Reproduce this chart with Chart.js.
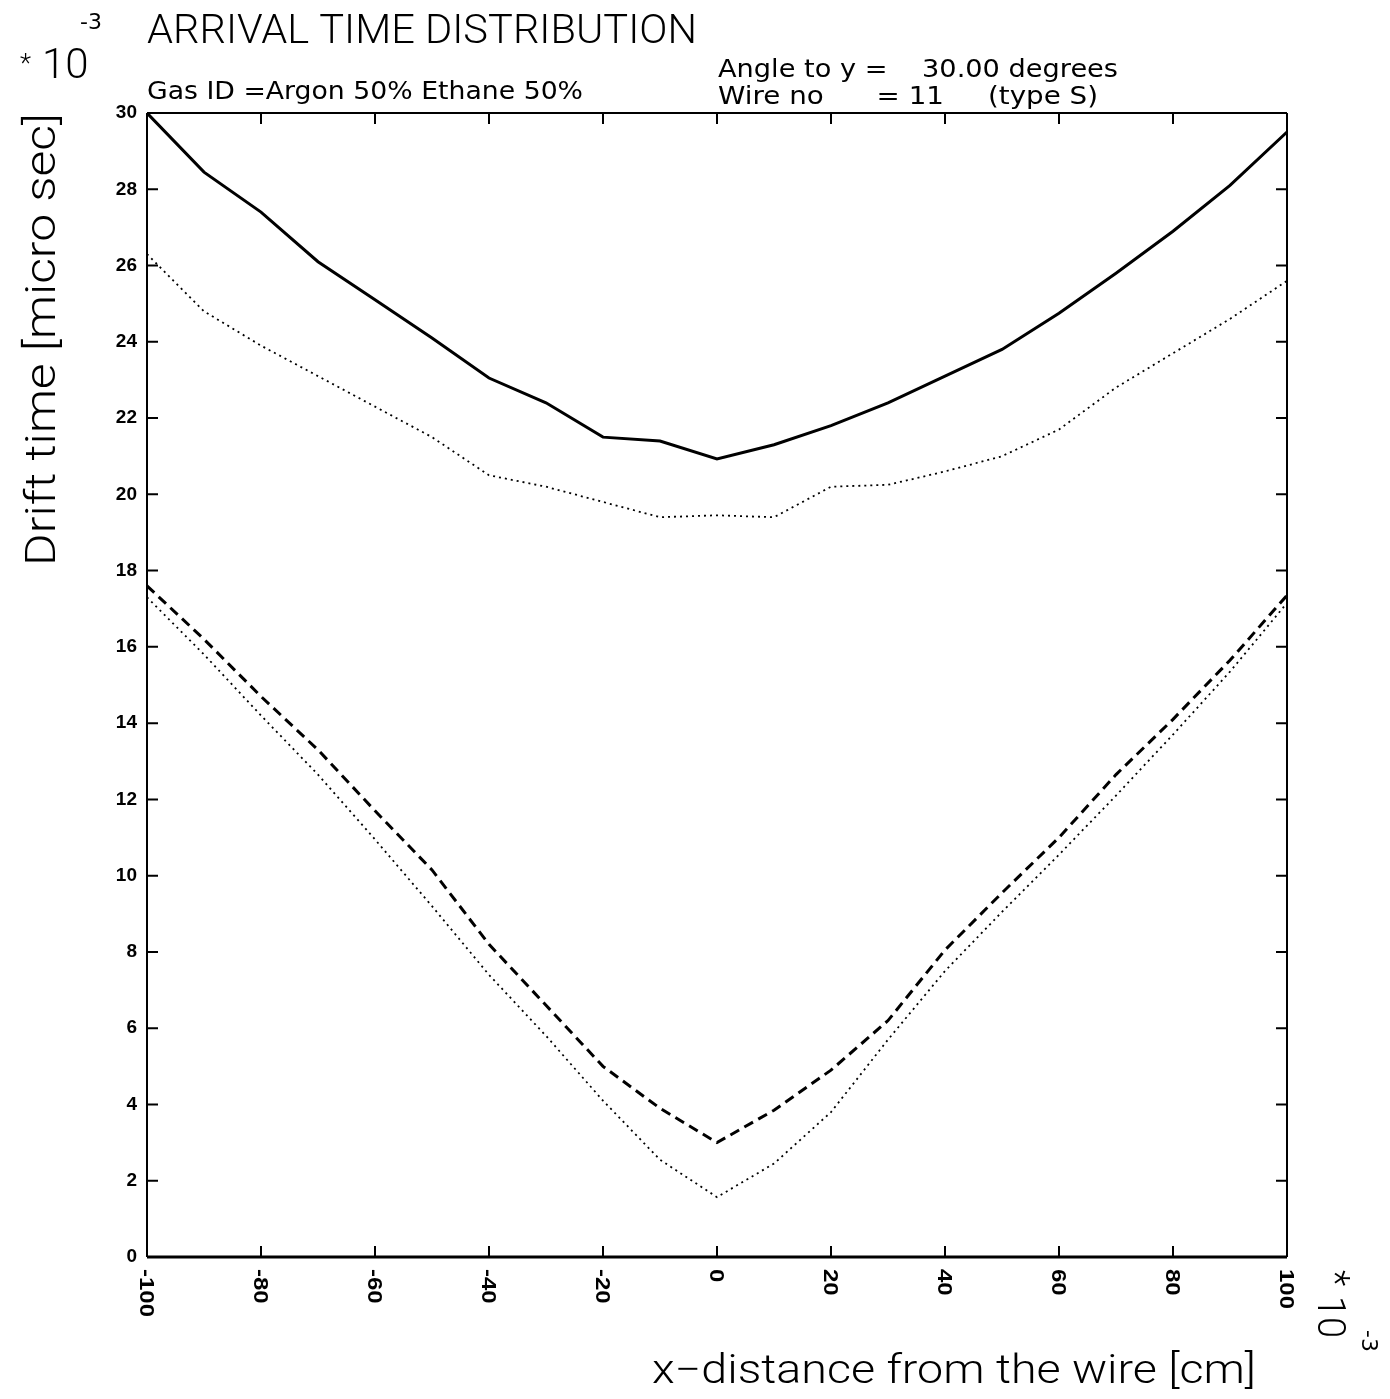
<!DOCTYPE html>
<html>
<head>
<meta charset="utf-8">
<script src="https://cdn.jsdelivr.net/npm/chart.js@4.4.1/dist/chart.umd.min.js"></script>
<style>
  html, body { margin: 0; padding: 0; background: #fff; }
  #wrap { width: 1390px; height: 1399px; position: relative; }
</style>
</head>
<body>
<div id="wrap"><canvas id="arrival"></canvas></div>
<script>
// x positions (units of 1e-3 cm)
const xs = [-100, -90, -80, -70, -60, -50, -40, -30, -20, -10, 0, 10, 20, 30, 40, 50, 60, 70, 80, 90, 100];
// drift times (units of 1e-3 micro sec)
const solidTop = [30.0, 28.45, 27.4, 26.1, 25.1, 24.1, 23.05, 22.4, 21.5, 21.4, 20.93, 21.3, 21.8, 22.4, 23.1, 23.8, 24.75, 25.8, 26.9, 28.1, 29.5];
const dotTop = [26.3, 24.8, 23.9, 23.1, 22.3, 21.5, 20.5, 20.2, 19.8, 19.4, 19.45, 19.4, 20.2, 20.25, 20.6, 21.0, 21.7, 22.8, 23.7, 24.6, 25.6];
const dashLow = [17.6, 16.2, 14.7, 13.3, 11.7, 10.15, 8.2, 6.6, 5.0, 3.9, 3.0, 3.85, 4.9, 6.2, 8.05, 9.55, 11.0, 12.65, 14.1, 15.65, 17.35];
const dotLow = [17.3, 15.8, 14.2, 12.65, 10.95, 9.2, 7.4, 5.8, 4.1, 2.55, 1.57, 2.45, 3.8, 5.7, 7.5, 9.05, 10.55, 12.1, 13.7, 15.35, 17.15];
const xTicks = [-100, -80, -60, -40, -20, 0, 20, 40, 60, 80, 100];

function pts(ys) {
    return xs.map((x, i) => ({ x: x, y: ys[i] }));
}

// draw text squeezed/stretched to a given width
function fitText(ctx, text, x, y, width, font) {
    ctx.save();
    ctx.font = font;
    const w = ctx.measureText(text).width;
    ctx.translate(x, y);
    ctx.scale(width / w, 1);
    ctx.textAlign = 'left';
    ctx.fillText(text, 0, 0);
    ctx.restore();
}

const decor = {
    id: 'decor',
    afterDraw(chart) {
        const ctx = chart.ctx;
        const a = chart.chartArea;
        const xs_ = chart.scales.x;
        const ys_ = chart.scales.y;
        ctx.save();
        ctx.strokeStyle = '#000';
        ctx.fillStyle = '#000';

        // frame
        ctx.lineWidth = 2;
        ctx.beginPath();
        ctx.moveTo(a.left, a.top); ctx.lineTo(a.right, a.top);
        ctx.moveTo(a.left, a.top); ctx.lineTo(a.left, a.bottom);
        ctx.moveTo(a.right, a.top); ctx.lineTo(a.right, a.bottom);
        ctx.stroke();
        ctx.lineWidth = 3;
        ctx.beginPath();
        ctx.moveTo(a.left, a.bottom); ctx.lineTo(a.right, a.bottom);
        ctx.stroke();

        // inside ticks
        ctx.lineWidth = 2;
        ctx.beginPath();
        ys_.ticks.forEach(t => {
            const py = ys_.getPixelForValue(t.value);
            ctx.moveTo(a.left, py); ctx.lineTo(a.left + 11, py);
            ctx.moveTo(a.right, py); ctx.lineTo(a.right - 11, py);
        });
        xTicks.forEach(v => {
            const px = xs_.getPixelForValue(v);
            ctx.moveTo(px, a.bottom); ctx.lineTo(px, a.bottom - 11);
            ctx.moveTo(px, a.top); ctx.lineTo(px, a.top + 11);
        });
        ctx.stroke();

        // x tick labels, reading top to bottom
        ctx.font = 'bold 20px "Liberation Sans"';
        ctx.textBaseline = 'middle';
        ctx.textAlign = 'left';
        xTicks.forEach(v => {
            const px = xs_.getPixelForValue(v);
            const s = v < 0 ? '-' + Math.abs(v) : String(v);
            ctx.save();
            ctx.translate(px - 1, a.bottom + 12);
            ctx.rotate(Math.PI / 2);
            ctx.scale(1.2, 1);
            ctx.fillText(s, 0, 0);
            ctx.restore();
        });

        // titles and annotations
        ctx.textBaseline = 'alphabetic';
        fitText(ctx, 'ARRIVAL TIME DISTRIBUTION', 147, 43, 550, '300 40px Roboto');
        fitText(ctx, 'Gas ID =Argon 50% Ethane 50%', 147, 99, 436, '25px "DejaVu Sans"');
        fitText(ctx, 'Angle to y =    30.00 degrees', 718, 77, 400, '25px "DejaVu Sans"');
        fitText(ctx, 'Wire no      = 11     (type S)', 718, 104, 380, '25px "DejaVu Sans"');
        fitText(ctx, 'x\u2212distance from the wire [cm]', 652, 1383, 604, '300 40px Roboto');

        // y title
        ctx.save();
        ctx.translate(55, 566);
        ctx.rotate(-Math.PI / 2);
        fitText(ctx, 'Drift time [micro sec]', 0, 0, 453, '300 42px Roboto');
        ctx.restore();

        // y multiplier
        ctx.font = '300 26px Roboto';
        ctx.fillText('*', 20, 72);
        ctx.font = '300 42px Roboto';
        ctx.fillText('10', 42, 78);
        ctx.font = '22px "DejaVu Sans"';
        ctx.fillText('-3', 80, 29);

        // x multiplier, reading top to bottom
        ctx.save();
        ctx.translate(1334, 1270);
        ctx.rotate(Math.PI / 2);
        ctx.font = '300 38px Roboto';
        ctx.fillText('*', 0, 12);
        ctx.fillText('10', 26, 16);
        ctx.font = '22px "DejaVu Sans"';
        ctx.fillText('-3', 60, -28);
        ctx.restore();

        ctx.restore();
    }
};

const lineBase = { pointRadius: 0, tension: 0, fill: false, borderColor: '#000' };

new Chart(document.getElementById('arrival'), {
    type: 'line',
    data: {
        datasets: [
            Object.assign({ label: 'solid', data: pts(solidTop), borderWidth: 3 }, lineBase),
            Object.assign({ label: 'dotted upper', data: pts(dotTop), borderWidth: 1.8, borderDash: [2, 4] }, lineBase),
            Object.assign({ label: 'dashed', data: pts(dashLow), borderWidth: 3, borderDash: [10, 6] }, lineBase),
            Object.assign({ label: 'dotted lower', data: pts(dotLow), borderWidth: 1.8, borderDash: [2, 4] }, lineBase)
        ]
    },
    options: {
        responsive: true,
        maintainAspectRatio: false,
        animation: false,
        layout: { padding: { top: 113, right: 103, left: 0, bottom: 0 } },
        plugins: { legend: { display: false }, tooltip: { enabled: false } },
        scales: {
            x: {
                type: 'linear',
                min: -100,
                max: 100,
                ticks: { display: false, stepSize: 20 },
                grid: { display: false },
                border: { display: false },
                afterFit(scale) { scale.height = 142; }
            },
            y: {
                min: 0,
                max: 30,
                ticks: {
                    stepSize: 2,
                    color: '#000',
                    padding: 10,
                    font: { family: 'Liberation Sans', size: 19, weight: 'bold' }
                },
                grid: { display: false, drawTicks: false },
                border: { display: false },
                afterFit(scale) { scale.width = 147; }
            }
        }
    },
    plugins: [decor]
});
</script>
</body>
</html>
